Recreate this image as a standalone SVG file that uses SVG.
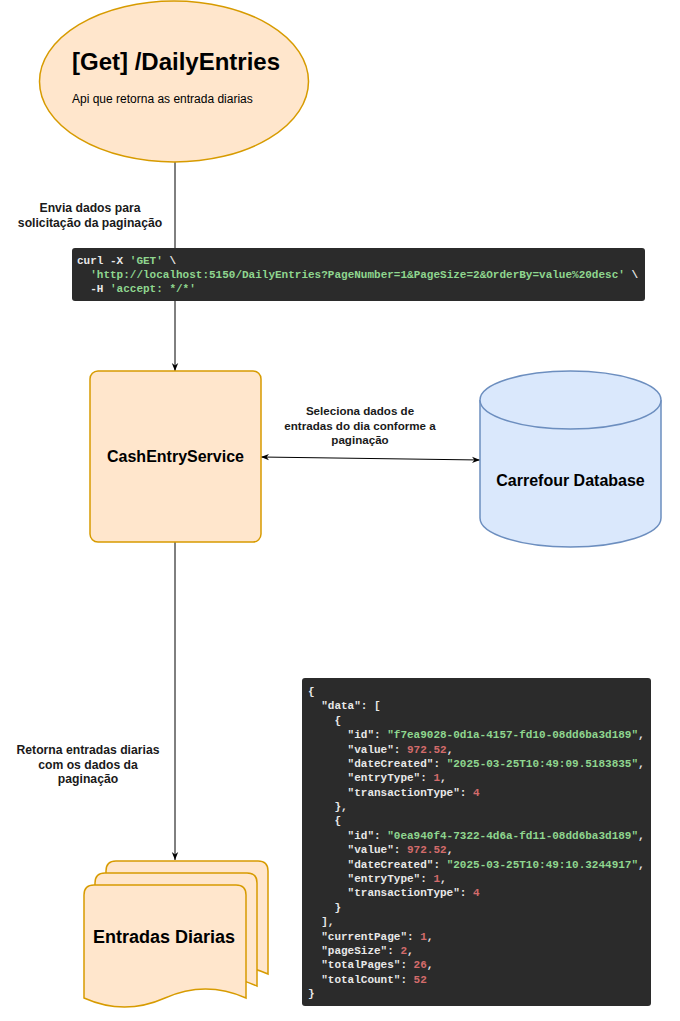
<svg xmlns="http://www.w3.org/2000/svg" width="680" height="1021" viewBox="0 0 680 1021">
<style>
.orange{fill:#ffe6cc;stroke:#d79b00;stroke-width:1.5}
.blue{fill:#dae8fc;stroke:#6c8ebf;stroke-width:1.5}
.edge{fill:none;stroke:#000;stroke-width:1}
.lbl{font-family:"Liberation Sans",Arial,sans-serif;font-size:11.6px;font-weight:bold;fill:#1a1a1a;text-anchor:middle}
.lbl2{font-size:12.2px}
.ttl{font-family:"Liberation Sans",Arial,sans-serif;font-weight:bold;fill:#000}
.code{fill:#2b2b2b}
.mono{font-family:"Liberation Mono","DejaVu Sans Mono",monospace;font-size:11px;font-weight:bold}
.k{fill:#e8e8e8}
.s{fill:#8fd68f}
.n{fill:#d36b6b}
</style>
<defs>
<marker id="arr" viewBox="0 0 10 10" refX="10" refY="5" markerWidth="8" markerHeight="8" markerUnits="userSpaceOnUse" orient="auto-start-reverse">
<path d="M0,1 L10,5 L0,9 L3,5 Z" fill="#000"/>
</marker>
<path id="page" d="M0,113 L0,10 Q0,0 10,0 L152,0 Q162,0 162,10 L162,113 Q121.5,95 81,113 Q40.5,131 0,113 Z"/>
</defs>

<g id="connectors">
<path class="edge" d="M175,162 L175,371" marker-end="url(#arr)"/>
<path class="edge" d="M261,457 L480,460" marker-start="url(#arr)" marker-end="url(#arr)"/>
<path class="edge" d="M175,542 L175,860" marker-end="url(#arr)"/>
<text class="lbl lbl2"><tspan x="90" y="212">Envia dados para</tspan><tspan x="90" y="227">solicitação da paginação</tspan></text>
<text class="lbl"><tspan x="360" y="415">Seleciona dados de</tspan><tspan x="360" y="429.5">entradas do dia conforme a</tspan><tspan x="360" y="444">paginação</tspan></text>
<text class="lbl lbl2"><tspan x="88" y="754">Retorna entradas diarias</tspan><tspan x="88" y="768.5">com os dados da</tspan><tspan x="88" y="783">paginação</tspan></text>
</g>

<g id="api">
<ellipse class="orange" cx="174" cy="81.5" rx="134.5" ry="80.5"/>
<text class="ttl" x="72" y="70" font-size="24">[Get] /DailyEntries</text>
<text x="72" y="103" font-family="'Liberation Sans',Arial,sans-serif" font-size="12" fill="#000">Api que retorna as entrada diarias</text>
</g>

<g id="curl">
<rect class="code" x="72" y="248" width="573" height="53" rx="3"/>
<text class="mono" x="77" y="264"><tspan class="k">curl -X </tspan><tspan class="s">'GET'</tspan><tspan class="k"> \</tspan></text>
<text class="mono" x="90.2" y="278"><tspan class="s">'http://localhost:5150/DailyEntries?PageNumber=1&amp;PageSize=2&amp;OrderBy=value%20desc'</tspan><tspan class="k"> \</tspan></text>
<text class="mono" x="90.2" y="292"><tspan class="k">-H </tspan><tspan class="s">'accept: */*'</tspan></text>
</g>

<g id="service">
<rect class="orange" x="90" y="371" width="171" height="171" rx="8"/>
<text class="ttl" x="175.5" y="462" font-size="16" text-anchor="middle">CashEntryService</text>
</g>

<g id="database">
<path class="blue" d="M480,400 A90.5,29 0 0 1 661,400 L661,518 A90.5,29 0 0 1 480,518 Z"/>
<path class="blue" fill="none" d="M480,400 A90.5,29 0 0 0 661,400"/>
<text class="ttl" x="570.5" y="486" font-size="16" text-anchor="middle">Carrefour Database</text>
</g>

<g id="entradas">
<use href="#page" class="orange" x="106" y="861"/>
<use href="#page" class="orange" x="95" y="873"/>
<use href="#page" class="orange" x="84" y="885"/>
<text class="ttl" x="164" y="943" font-size="18" text-anchor="middle">Entradas Diarias</text>
</g>

<g id="json">
<rect class="code" x="302" y="678" width="349" height="328" rx="3"/>
<g class="mono">
<text x="308" y="695" class="k">{</text>
<text x="321.2" y="709.4"><tspan class="k">"data": [</tspan></text>
<text x="334.4" y="723.8" class="k">{</text>
<text x="347.6" y="738.1"><tspan class="k">"id": </tspan><tspan class="s">"f7ea9028-0d1a-4157-fd10-08dd6ba3d189"</tspan><tspan class="k">,</tspan></text>
<text x="347.6" y="752.5"><tspan class="k">"value": </tspan><tspan class="n">972.52</tspan><tspan class="k">,</tspan></text>
<text x="347.6" y="766.9"><tspan class="k">"dateCreated": </tspan><tspan class="s">"2025-03-25T10:49:09.5183835"</tspan><tspan class="k">,</tspan></text>
<text x="347.6" y="781.3"><tspan class="k">"entryType": </tspan><tspan class="n">1</tspan><tspan class="k">,</tspan></text>
<text x="347.6" y="795.7"><tspan class="k">"transactionType": </tspan><tspan class="n">4</tspan></text>
<text x="334.4" y="810" class="k">},</text>
<text x="334.4" y="824.4" class="k">{</text>
<text x="347.6" y="838.8"><tspan class="k">"id": </tspan><tspan class="s">"0ea940f4-7322-4d6a-fd11-08dd6ba3d189"</tspan><tspan class="k">,</tspan></text>
<text x="347.6" y="853.2"><tspan class="k">"value": </tspan><tspan class="n">972.52</tspan><tspan class="k">,</tspan></text>
<text x="347.6" y="867.6"><tspan class="k">"dateCreated": </tspan><tspan class="s">"2025-03-25T10:49:10.3244917"</tspan><tspan class="k">,</tspan></text>
<text x="347.6" y="882"><tspan class="k">"entryType": </tspan><tspan class="n">1</tspan><tspan class="k">,</tspan></text>
<text x="347.6" y="896.3"><tspan class="k">"transactionType": </tspan><tspan class="n">4</tspan></text>
<text x="334.4" y="910.7" class="k">}</text>
<text x="321.2" y="925.1" class="k">],</text>
<text x="321.2" y="939.5"><tspan class="k">"currentPage": </tspan><tspan class="n">1</tspan><tspan class="k">,</tspan></text>
<text x="321.2" y="953.9"><tspan class="k">"pageSize": </tspan><tspan class="n">2</tspan><tspan class="k">,</tspan></text>
<text x="321.2" y="968.2"><tspan class="k">"totalPages": </tspan><tspan class="n">26</tspan><tspan class="k">,</tspan></text>
<text x="321.2" y="982.6"><tspan class="k">"totalCount": </tspan><tspan class="n">52</tspan></text>
<text x="308" y="997" class="k">}</text>
</g>
</g>
</svg>
